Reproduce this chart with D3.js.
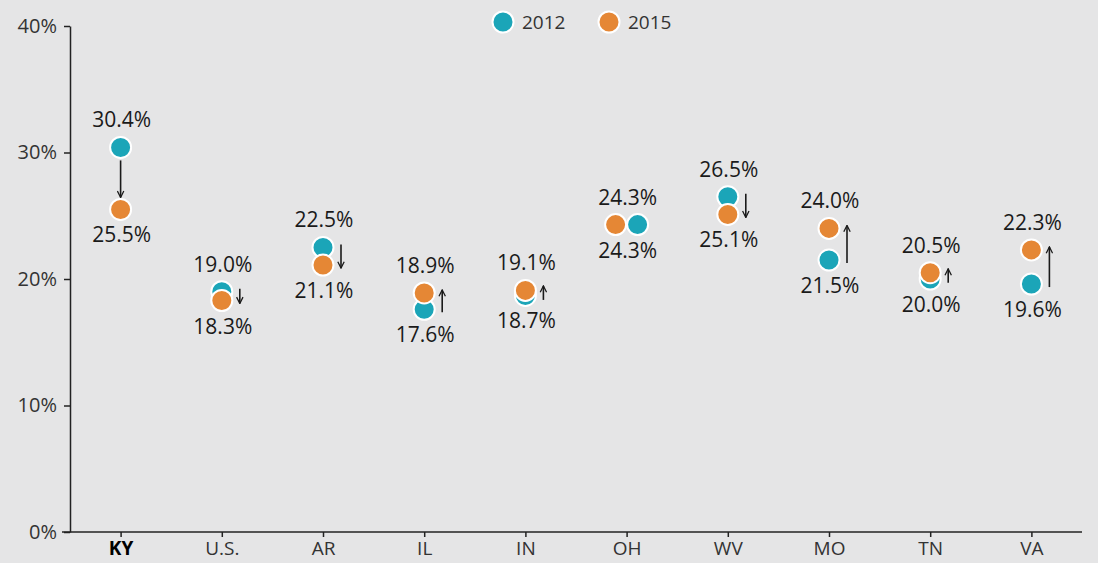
<!DOCTYPE html>
<html>
<head>
<meta charset="utf-8">
<script src="https://cdn.jsdelivr.net/npm/d3@7"></script>
<style>
  body { margin: 0; background: #e5e5e6; }
  svg { display: block; font-family: "Open Sans", sans-serif; }
</style>
</head>
<body>
<svg id="chart" width="1098" height="563"></svg>
<script>
// data
const states = ["KY", "U.S.", "AR", "IL", "IN", "OH", "WV", "MO", "TN", "VA"];
const v2012 = [30.4, 19.0, 22.5, 17.6, 18.7, 24.3, 26.5, 21.5, 20.0, 19.6];
const v2015 = [25.5, 18.3, 21.1, 18.9, 19.1, 24.3, 25.1, 24.0, 20.5, 22.3];
const yTicks = [0, 10, 20, 30, 40];
const years = ["2012", "2015"];

const teal = "#1ba5b8", orange = "#e58735", ink = "#1a1a1a";

const svg = d3.select("#chart");
const margin = {left: 70, right: 16, top: 26, bottom: 31};
const W = 1098, H = 563;

const x = d3.scalePoint().domain(states).range([margin.left, W - margin.right]).padding(0.5);
const y = d3.scaleLinear().domain([0, 40]).range([H - margin.bottom, margin.top]);

svg.append("defs").append("marker")
  .attr("id", "head").attr("viewBox", "0 0 10 10")
  .attr("refX", 9).attr("refY", 5)
  .attr("markerWidth", 8).attr("markerHeight", 8)
  .attr("markerUnits", "userSpaceOnUse")
  .attr("orient", "auto")
  .append("path").attr("d", "M1,1 L9,5 L1,9").attr("fill", "none")
  .attr("stroke", ink).attr("stroke-width", 1.6);

// y axis
const yAxis = svg.append("g").attr("transform", `translate(${margin.left},0)`)
  .call(d3.axisLeft(y).tickValues(yTicks).tickFormat(d => d + "%").tickSize(6).tickSizeOuter(0));
yAxis.select(".domain").attr("stroke", "#222").attr("stroke-width", 1.5);
yAxis.selectAll(".tick line").attr("stroke", "#222").attr("stroke-width", 1.5);
yAxis.selectAll("text").attr("font-size", 20).attr("fill", "#333").attr("x", -13)
  .attr("font-family", "Open Sans");

// x axis
const xAxis = svg.append("g").attr("transform", `translate(0,${y(0)})`)
  .call(d3.axisBottom(x).tickSize(5).tickSizeOuter(0));
xAxis.select(".domain").attr("d", `M${margin.left - 8},0H${W - margin.right}`)
  .attr("stroke", "#222").attr("stroke-width", 1.5);
xAxis.selectAll(".tick line").attr("stroke", "#222").attr("stroke-width", 1.5);
xAxis.selectAll("text").attr("font-size", 19).attr("y", 6).attr("dy", "0.9em")
  .attr("font-family", "Open Sans")
  .attr("font-weight", d => d === "KY" ? "bold" : null)
  .attr("fill", d => d === "KY" ? "#000" : "#333");

// points
const g = svg.append("g");
states.forEach((s, i) => {
  const a = v2012[i], b = v2015[i];
  const cx = x(s);
  const ya = y(a), yb = y(b);
  const hi = Math.max(a, b), lo = Math.min(a, b);
  let xa = cx, xb = cx;
  if (a === b) { xa = cx + 11; xb = cx - 11; }

  // arrow
  if (a !== b) {
    if (s === "KY") {
      g.append("line").attr("x1", cx).attr("x2", cx)
        .attr("y1", ya + 13).attr("y2", yb - 12)
        .attr("stroke", ink).attr("stroke-width", 1.6).attr("marker-end", "url(#head)");
    } else {
      const mid = (ya + yb) / 2;
      const len = Math.max(Math.abs(yb - ya) + 6, 14);
      const dir = yb > ya ? 1 : -1;
      g.append("line").attr("x1", cx + 18).attr("x2", cx + 18)
        .attr("y1", mid - dir * len / 2).attr("y2", mid + dir * len / 2)
        .attr("stroke", ink).attr("stroke-width", 1.6).attr("marker-end", "url(#head)");
    }
  }

  g.append("circle").attr("cx", xa).attr("cy", ya).attr("r", 10.5)
    .attr("fill", teal).attr("stroke", "#fff").attr("stroke-width", 2);
  g.append("circle").attr("cx", xb).attr("cy", yb).attr("r", 10.5)
    .attr("fill", orange).attr("stroke", "#fff").attr("stroke-width", 2);

  // labels
  g.append("text").attr("x", cx + 1).attr("y", y(hi) - 20).attr("text-anchor", "middle")
    .attr("font-size", 21).attr("fill", ink).text(hi.toFixed(1) + "%");
  g.append("text").attr("x", cx + 1).attr("y", y(lo) + 33).attr("text-anchor", "middle")
    .attr("font-size", 21).attr("fill", ink).text(lo.toFixed(1) + "%");
});

// legend
const legend = svg.append("g").attr("transform", "translate(503,22)");
years.forEach((yr, i) => {
  const lg = legend.append("g").attr("transform", `translate(${i * 106},0)`);
  lg.append("circle").attr("r", 10.5).attr("fill", i ? orange : teal)
    .attr("stroke", "#fff").attr("stroke-width", 2);
  lg.append("text").attr("x", 19).attr("y", 7).attr("font-size", 19).attr("fill", "#333").text(yr);
});
</script>
</body>
</html>
